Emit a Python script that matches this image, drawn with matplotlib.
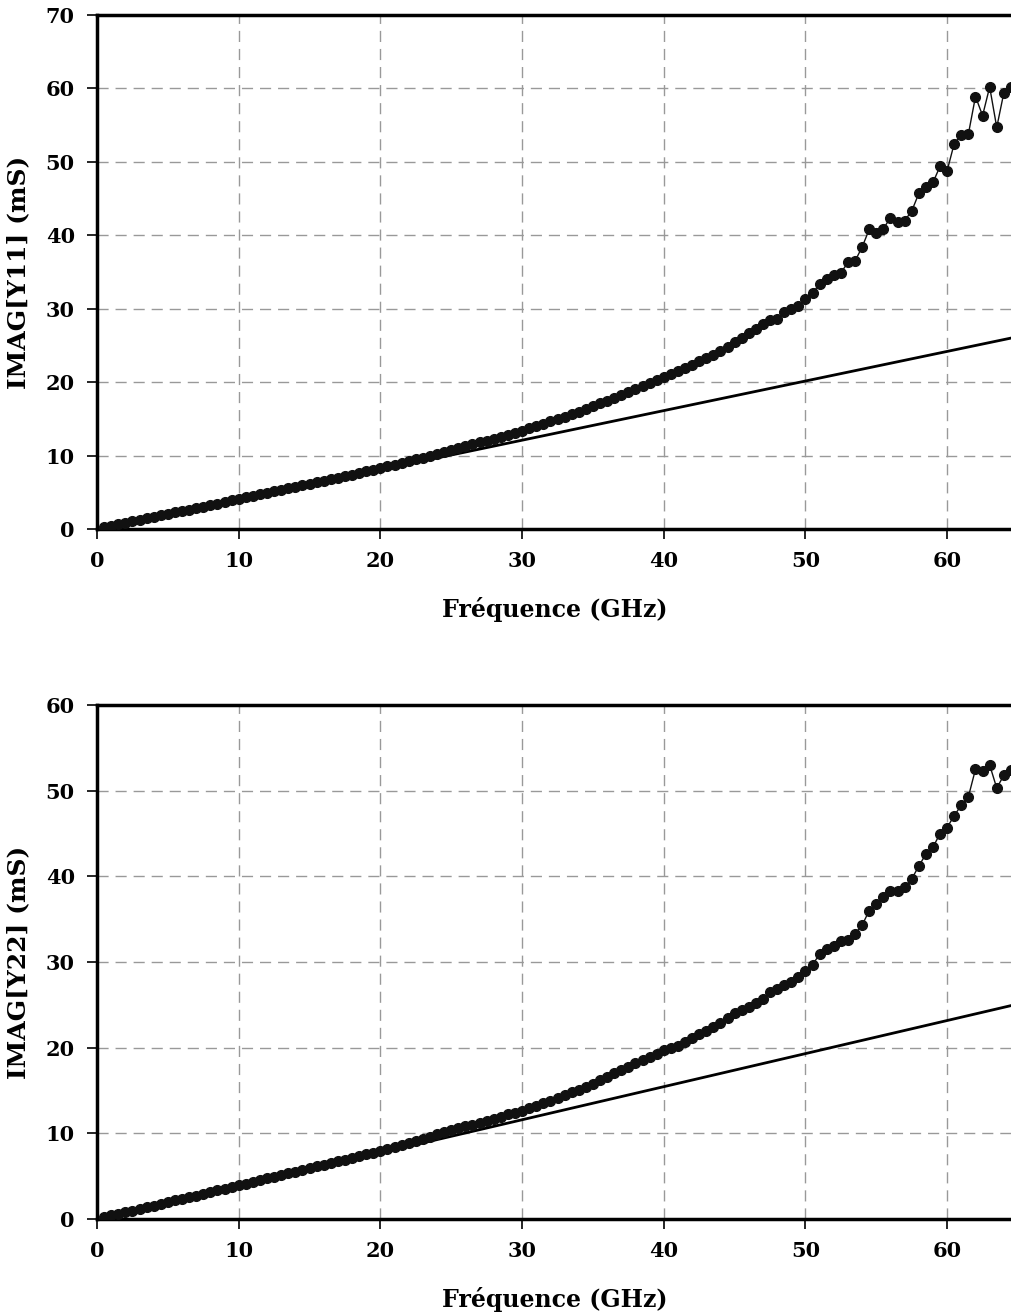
import matplotlib
matplotlib.use("Agg")
import matplotlib.pyplot as plt
import numpy as np

plt.rcParams['font.family'] = ['DejaVu Serif']
plt.rcParams['font.weight'] = 'bold'

# frequency points (GHz), every 0.5 GHz
freq = np.arange(1, 130) * 0.5

# IMAG[Y11] (mS), measured points
y11 = [
    0.27, 0.45, 0.65, 0.85, 1.05, 1.25, 1.45, 1.65, 1.85, 2.05,
    2.25, 2.45, 2.65, 2.86, 3.06, 3.27, 3.47, 3.68, 3.89, 4.10,
    4.30, 4.51, 4.71, 4.92, 5.12, 5.33, 5.54, 5.75, 5.95, 6.16,
    6.37, 6.58, 6.79, 7.00, 7.21, 7.42, 7.63, 7.85, 8.07, 8.30,
    8.53, 8.77, 9.00, 9.24, 9.48, 9.72, 9.97, 10.22, 10.50, 10.80,
    11.05, 11.30, 11.55, 11.80, 12.05, 12.30, 12.55, 12.85, 13.10, 13.40,
    13.70, 14.00, 14.30, 14.65, 15.00, 15.30, 15.65, 16.00, 16.35, 16.70,
    17.10, 17.50, 17.90, 18.30, 18.70, 19.10, 19.50, 19.90, 20.30, 20.70,
    21.10, 21.50, 21.95, 22.40, 22.85, 23.30, 23.75, 24.20, 24.80, 25.40,
    26.00, 26.70, 27.30, 27.90, 28.40, 28.60, 29.50, 30.00, 30.40, 31.30,
    32.10, 33.40, 34.00, 34.60, 34.90, 36.30, 36.50, 38.40, 40.80, 40.30,
    40.90, 42.40, 41.80, 42.00, 43.30, 45.70, 46.60, 47.20, 49.40, 48.80,
    52.50, 53.70, 53.80, 58.90, 56.30, 60.20, 54.70, 59.40, 60.20,
]

# IMAG[Y22] (mS), measured points
y22 = [
    0.25, 0.42, 0.61, 0.80, 0.99, 1.18, 1.38, 1.57, 1.77, 1.96,
    2.16, 2.35, 2.55, 2.74, 2.94, 3.14, 3.34, 3.54, 3.74, 3.94,
    4.14, 4.34, 4.54, 4.74, 4.94, 5.14, 5.34, 5.54, 5.74, 5.94,
    6.14, 6.34, 6.54, 6.74, 6.94, 7.14, 7.34, 7.54, 7.75, 7.96,
    8.19, 8.42, 8.65, 8.89, 9.13, 9.38, 9.63, 9.88, 10.14, 10.40,
    10.60, 10.80, 11.00, 11.20, 11.45, 11.70, 11.95, 12.20, 12.40, 12.60,
    12.90, 13.20, 13.50, 13.80, 14.10, 14.45, 14.80, 15.10, 15.45, 15.80,
    16.20, 16.60, 17.00, 17.40, 17.80, 18.20, 18.60, 18.95, 19.30, 19.70,
    19.95, 20.20, 20.65, 21.10, 21.55, 22.00, 22.45, 22.90, 23.45, 24.00,
    24.35, 24.70, 25.20, 25.70, 26.50, 26.80, 27.30, 27.70, 28.20, 28.90,
    29.70, 30.90, 31.50, 31.90, 32.50, 32.60, 33.30, 34.30, 36.00, 36.80,
    37.60, 38.30, 38.30, 38.70, 39.70, 41.20, 42.60, 43.40, 45.00, 45.70,
    47.10, 48.30, 49.30, 52.50, 52.30, 53.00, 50.30, 51.80, 52.40,
]

# straight reference lines (model)
line_f = [0, 65]
line_y11 = [0, 26.2]
line_y22 = [0, 25.1]

xticks = [0, 10, 20, 30, 40, 50, 60]

fig = plt.figure(figsize=(10.12, 13.13), dpi=100)

left = 97 / 1012
width = (1018 - 97) / 1012
ax1 = fig.add_axes([left, (1313 - 529) / 1313, width, 514 / 1313])
ax2 = fig.add_axes([left, (1313 - 1219) / 1313, width, 514 / 1313])

panels = [
    (ax1, y11, line_y11, 70, np.arange(0, 71, 10), "IMAG[Y11] (mS)"),
    (ax2, y22, line_y22, 60, np.arange(0, 61, 10), "IMAG[Y22] (mS)"),
]

for ax, ydata, yline, ymax, yticks, ylabel in panels:
    ax.plot(line_f, yline, color="black", linewidth=2.0, zorder=3)
    ax.plot(freq, ydata, color="#111111", linewidth=1.0, marker="o",
            markersize=7, markerfacecolor="#111111", markeredgecolor="#111111",
            zorder=4)
    ax.set_xlim(0, 65)
    ax.set_ylim(0, ymax)
    ax.set_xticks(xticks)
    ax.set_yticks(yticks)
    ax.grid(True, color="#999999", linestyle=(0, (8, 5)), linewidth=1.0)
    ax.set_axisbelow(True)
    for side in ["left", "bottom", "top"]:
        ax.spines[side].set_linewidth(2.5)
    ax.spines["right"].set_visible(False)
    ax.tick_params(direction="out", length=7, width=1.2, labelsize=15, pad=9)
    for lab in ax.get_xticklabels() + ax.get_yticklabels():
        lab.set_fontweight("bold")
    ax.set_xlabel("Fréquence (GHz)", fontsize=17, fontweight="bold")
    ax.set_ylabel(ylabel, fontsize=18, fontweight="bold")
    ax.xaxis.set_label_coords(0.497, -0.132)
    ax.yaxis.set_label_coords(-0.072, 0.5)

fig.savefig("out.png", dpi=100)
